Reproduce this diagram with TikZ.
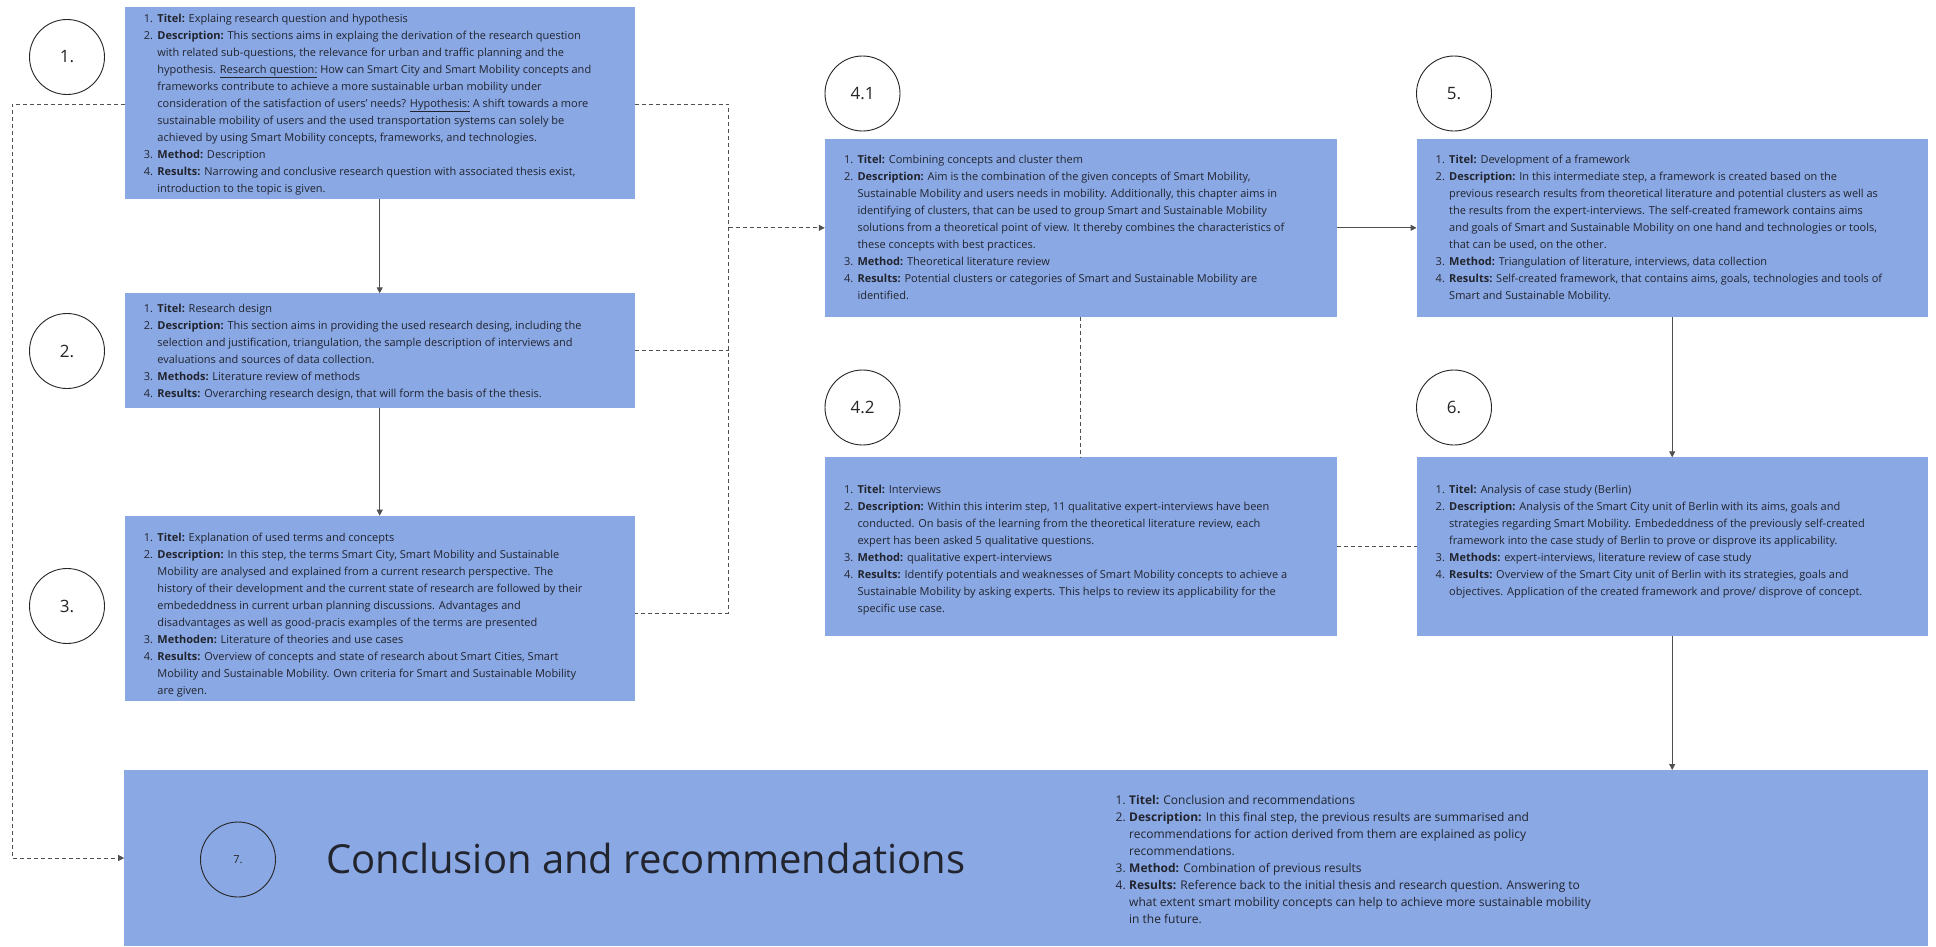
\documentclass[tikz,border=0pt]{standalone}
\usepackage{fontspec}
\setmainfont{Open Sans}
\usetikzlibrary{arrows.meta,calc}

\definecolor{stepblue}{RGB}{137,168,228}
\definecolor{inktext}{RGB}{34,36,46}
\definecolor{linkgray}{RGB}{80,80,80}

% numbered list line and its continuation line
\newcommand\itm[2]{\makebox[13.5pt][l]{#1}#2}
\newcommand\cnt[1]{\hspace*{13.5pt}#1}

\begin{document}
\begin{tikzpicture}[x=1pt,y=-1pt,
  stepbox/.style={fill=stepblue, draw=none, inner sep=0, outer sep=0, anchor=north west},
  steptext/.style={anchor=north west, inner sep=0, align=left, text=inktext,
    font=\fontsize{11}{17}\selectfont},
  numcircle/.style={circle, draw=black!85, line width=0.9pt, minimum size=75pt,
    inner sep=0, font=\fontsize{17}{20}\selectfont, text=black!85},
  flow/.style={draw=linkgray, line width=1pt, -{Triangle[length=6pt,width=6pt]}},
  link/.style={draw=linkgray, line width=1pt, dash pattern=on 4pt off 3pt},
  linkarrow/.style={link, -{Triangle[length=6pt,width=6pt]}}]

\fill[white] (0,0) rectangle (1936,946);
\useasboundingbox (0,0) rectangle (1936,946);

% ---- step boxes ----
\node[stepbox, minimum width=510pt, minimum height=192pt] (b1) at (124.7,7.3) {};
\node[stepbox, minimum width=510pt, minimum height=115pt] (b2) at (124.7,293.3) {};
\node[stepbox, minimum width=510pt, minimum height=185pt] (b3) at (124.7,515.7) {};
\node[stepbox, minimum width=512pt, minimum height=177.7pt] (b41) at (824.8,139) {};
\node[stepbox, minimum width=512pt, minimum height=178.7pt] (b42) at (824.8,457.3) {};
\node[stepbox, minimum width=511.4pt, minimum height=177.7pt] (b5) at (1416.5,139) {};
\node[stepbox, minimum width=511.4pt, minimum height=178.7pt] (b6) at (1416.5,457.3) {};
\node[stepbox, minimum width=1803.5pt, minimum height=176pt] (b7) at (124.2,770) {};

% ---- step numbers ----
\node[numcircle] (c1) at (67,57) {1.};
\node[numcircle] (c2) at (67,351) {2.};
\node[numcircle] (c3) at (67,606) {3.};
\node[numcircle] (c41) at (862.5,93.5) {4.1};
\node[numcircle] (c5) at (1454,93.5) {5.};
\node[numcircle] (c42) at (862.5,407.5) {4.2};
\node[numcircle] (c6) at (1454,407.5) {6.};
\node[numcircle, font=\fontsize{11}{13}\selectfont] (c7) at (238,859.5) {7.};

% ---- step contents ----
\node[steptext] (t1) at ($(b1.north west)+(19,6.5)$) {%
\itm{1.}{\textbf{Titel:} Explaing research question and hypothesis}\\
\itm{2.}{\textbf{Description:} This sections aims in explaing the derivation of the research question}\\
\cnt{with related sub-questions, the relevance for urban and traffic planning and the}\\
\cnt{hypothesis. \underline{Research question:} How can Smart City and Smart Mobility concepts and}\\
\cnt{frameworks contribute to achieve a more sustainable urban mobility under}\\
\cnt{consideration of the satisfaction of users’ needs? \underline{Hypothesis:} A shift towards a more}\\
\cnt{sustainable mobility of users and the used transportation systems can solely be}\\
\cnt{achieved by using Smart Mobility concepts, frameworks, and technologies.}\\
\itm{3.}{\textbf{Method:} Description}\\
\itm{4.}{\textbf{Results:} Narrowing and conclusive research question with associated thesis exist,}\\
\cnt{introduction to the topic is given.}};

\node[steptext] (t2) at ($(b2.north west)+(19,10.5)$) {%
\itm{1.}{\textbf{Titel:} Research design}\\
\itm{2.}{\textbf{Description:} This section aims in providing the used research desing, including the}\\
\cnt{selection and justification, triangulation, the sample description of interviews and}\\
\cnt{evaluations and sources of data collection.}\\
\itm{3.}{\textbf{Methods:} Literature review of methods}\\
\itm{4.}{\textbf{Results:} Overarching research design, that will form the basis of the thesis.}};

\node[steptext] (t3) at ($(b3.north west)+(19,17)$) {%
\itm{1.}{\textbf{Titel:} Explanation of used terms and concepts}\\
\itm{2.}{\textbf{Description:} In this step, the terms Smart City, Smart Mobility and Sustainable}\\
\cnt{Mobility are analysed and explained from a current research perspective. The}\\
\cnt{history of their development and the current state of research are followed by their}\\
\cnt{embededdness in current urban planning discussions. Advantages and}\\
\cnt{disadvantages as well as good-pracis examples of the terms are presented}\\
\itm{3.}{\textbf{Methoden:} Literature of theories and use cases}\\
\itm{4.}{\textbf{Results:} Overview of concepts and state of research about Smart Cities, Smart}\\
\cnt{Mobility and Sustainable Mobility. Own criteria for Smart and Sustainable Mobility}\\
\cnt{are given.}};

\node[steptext] (t41) at ($(b41.north west)+(19,15.8)$) {%
\itm{1.}{\textbf{Titel:} Combining concepts and cluster them}\\
\itm{2.}{\textbf{Description:} Aim is the combination of the given concepts of Smart Mobility,}\\
\cnt{Sustainable Mobility and users needs in mobility. Additionally, this chapter aims in}\\
\cnt{identifying of clusters, that can be used to group Smart and Sustainable Mobility}\\
\cnt{solutions from a theoretical point of view. It thereby combines the characteristics of}\\
\cnt{these concepts with best practices.}\\
\itm{3.}{\textbf{Method:} Theoretical literature review}\\
\itm{4.}{\textbf{Results:} Potential clusters or categories of Smart and Sustainable Mobility are}\\
\cnt{identified.}};

\node[steptext] (t5) at ($(b5.north west)+(19,15.8)$) {%
\itm{1.}{\textbf{Titel:} Development of a framework}\\
\itm{2.}{\textbf{Description:} In this intermediate step, a framework is created based on the}\\
\cnt{previous research results from theoretical literature and potential clusters as well as}\\
\cnt{the results from the expert-interviews. The self-created framework contains aims}\\
\cnt{and goals of Smart and Sustainable Mobility on one hand and technologies or tools,}\\
\cnt{that can be used, on the other.}\\
\itm{3.}{\textbf{Method:} Triangulation of literature, interviews, data collection}\\
\itm{4.}{\textbf{Results:} Self-created framework, that contains aims, goals, technologies and tools of}\\
\cnt{Smart and Sustainable Mobility.}};

\node[steptext] (t42) at ($(b42.north west)+(19,27.5)$) {%
\itm{1.}{\textbf{Titel:} Interviews}\\
\itm{2.}{\textbf{Description:} Within this interim step, 11 qualitative expert-interviews have been}\\
\cnt{conducted. On basis of the learning from the theoretical literature review, each}\\
\cnt{expert has been asked 5 qualitative questions.}\\
\itm{3.}{\textbf{Method:} qualitative expert-interviews}\\
\itm{4.}{\textbf{Results:} Identify potentials and weaknesses of Smart Mobility concepts to achieve a}\\
\cnt{Sustainable Mobility by asking experts. This helps to review its applicability for the}\\
\cnt{specific use case.}};

\node[steptext] (t6) at ($(b6.north west)+(19,27.5)$) {%
\itm{1.}{\textbf{Titel:} Analysis of case study (Berlin)}\\
\itm{2.}{\textbf{Description:} Analysis of the Smart City unit of Berlin with its aims, goals and}\\
\cnt{strategies regarding Smart Mobility. Embededdness of the previously self-created}\\
\cnt{framework into the case study of Berlin to prove or disprove its applicability.}\\
\itm{3.}{\textbf{Methods:} expert-interviews, literature review of case study}\\
\itm{4.}{\textbf{Results:} Overview of the Smart City unit of Berlin with its strategies, goals and}\\
\cnt{objectives. Application of the created framework and prove/ disprove of concept.}};

\node[anchor=base west, inner sep=0, text=inktext, font=\fontsize{40}{48}\selectfont]
  (h7) at (326,873) {Conclusion and recommendations};

\node[steptext, font=\fontsize{12}{17}\selectfont] (t7) at (1115.5,795) {%
\itm{1.}{\textbf{Titel:} Conclusion and recommendations}\\
\itm{2.}{\textbf{Description:} In this final step, the previous results are summarised and}\\
\cnt{recommendations for action derived from them are explained as policy}\\
\cnt{recommendations.}\\
\itm{3.}{\textbf{Method:} Combination of previous results}\\
\itm{4.}{\textbf{Results:} Reference back to the initial thesis and research question. Answering to}\\
\cnt{what extent smart mobility concepts can help to achieve more sustainable mobility}\\
\cnt{in the future.}};

% ---- connectors ----
\coordinate (jtop) at (728.5,104);
\coordinate (jbot) at (728.5,613);
\coordinate (lft) at (12,104);

\draw[flow] (b1.south) -- (b2.north);
\draw[flow] (b2.south) -- (b3.north);
\draw[link] (b1.east |- jtop) -- (jtop) -- (jbot) -- (b3.east |- jbot);
\draw[link] (b2.east) -- (b2.east -| jtop);
\draw[linkarrow] (jtop |- b41.west) -- (b41.west);
\draw[linkarrow] (b1.west |- lft) -- (lft) |- (b7.west);
\draw[flow] (b41.east) -- (b5.west);
\draw[link] (b41.south) -- (b42.north);
\draw[flow] (b5.south) -- (b6.north);
\draw[link] (b42.east) -- (b6.west);
\draw[flow] (b6.south) -- (b6.south |- b7.north);
\end{tikzpicture}
\end{document}
